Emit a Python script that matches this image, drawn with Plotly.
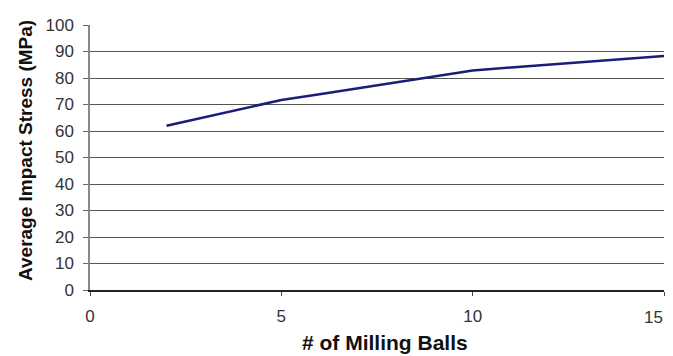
import plotly.graph_objects as go

balls = [2, 3, 4, 5, 6, 7, 8, 9, 10, 11, 12, 13, 14, 15]
stress = [62, 65.3, 68.5, 71.7, 73.9, 76.1, 78.4, 80.5, 82.8, 84.0, 85.1, 86.2, 87.2, 88.3]

x_ticks = [0, 5, 10, 15]
x_title = "# of Milling Balls"
y_title = "Average Impact Stress (MPa)"

fig = go.Figure()
fig.add_trace(go.Scatter(x=balls, y=stress, mode="lines",
                         line=dict(color="#1c1c7a", width=2.5)))

fig.update_layout(
    width=665, height=348,
    margin=dict(l=82, r=9, t=17, b=66),
    paper_bgcolor="white", plot_bgcolor="white",
    showlegend=False,
    font=dict(family="Liberation Sans, Arial, sans-serif", size=17, color="#333"),
)
fig.update_xaxes(
    range=[0, 15], tickvals=x_ticks,
    ticktext=[str(v) for v in x_ticks[:-1]] + [""],
    showgrid=False,
    showline=True, linecolor="#222", linewidth=1.5,
    ticks="outside", ticklen=4, tickcolor="#444",
    zeroline=False, automargin=False, ticklabelstandoff=6,
)
fig.update_yaxes(
    range=[0, 100], dtick=10, showgrid=True, gridcolor="#555", gridwidth=1,
    showline=True, linecolor="#888", linewidth=1.5,
    ticks="outside", ticklen=5, tickcolor="#666",
    zeroline=False, automargin=False, ticklabelstandoff=6,
)
# last x tick label (placed as an annotation so it stays inside the page edge)
fig.add_annotation(text=str(x_ticks[-1]), xref="x", yref="paper",
                   x=x_ticks[-1], y=-(317 - 290) / 265, xshift=1, showarrow=False,
                   font=dict(size=17, color="#333"), xanchor="right", yanchor="middle")
fig.add_annotation(text="<b>" + x_title + "</b>", xref="paper", yref="paper",
                   x=(385 - 90) / 574, y=-(342 - 290) / 265, showarrow=False,
                   font=dict(size=21, color="#111"), xanchor="center", yanchor="middle")
fig.add_annotation(text="<b>" + y_title + "</b>", xref="paper", yref="paper",
                   x=-(90 - 25) / 574, y=(290 - 151) / 265, showarrow=False, textangle=-90,
                   font=dict(size=19, color="#111"), xanchor="center", yanchor="middle")
fig.write_html("out.html")
